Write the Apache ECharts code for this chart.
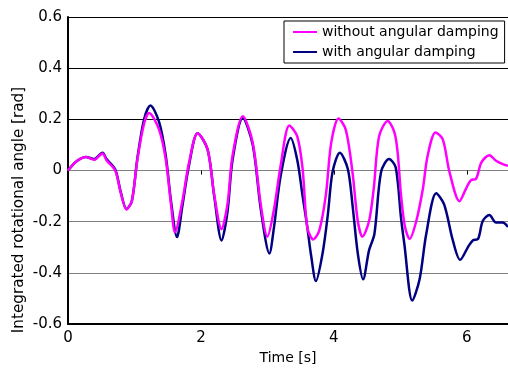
<!DOCTYPE html>
<html>
<head>
<meta charset="utf-8">
<script src="https://cdn.jsdelivr.net/npm/echarts@6/dist/echarts.min.js"></script>
<style>
  html, body { margin: 0; padding: 0; background: #fff; }
  #main { width: 508px; height: 370px; }
</style>
</head>
<body>
<div id="main"></div>
<script>
// without angular damping (magenta)
const tWithout = [0, 0.1, 0.19, 0.27, 0.39, 0.52, 0.58, 0.71, 0.79, 0.88, 0.96, 1.045, 1.145, 1.22, 1.37, 1.47, 1.55, 1.61, 1.72, 1.82, 1.95, 2.1, 2.2, 2.31, 2.4, 2.475, 2.63, 2.78, 2.9, 3.0, 3.1, 3.2, 3.33, 3.45, 3.53, 3.6, 3.69, 3.78, 3.88, 3.96, 4.07, 4.18, 4.28, 4.36, 4.43, 4.53, 4.6, 4.68, 4.81, 4.91, 4.96, 5.01, 5.07, 5.14, 5.24, 5.34, 5.41, 5.53, 5.64, 5.74, 5.89, 5.99, 6.06, 6.14, 6.22, 6.34, 6.44, 6.54, 6.62]
const yWithout = [0, 0.03, 0.047, 0.053, 0.042, 0.067, 0.04, 0, -0.083, -0.152, -0.12, 0.045, 0.184, 0.225, 0.16, 0.045, -0.133, -0.241, -0.12, 0.03, 0.146, 0.083, -0.095, -0.229, -0.13, 0.057, 0.212, 0.108, -0.133, -0.258, -0.15, 0.02, 0.176, 0.133, 0.006, -0.222, -0.269, -0.235, -0.095, 0.108, 0.203, 0.159, -0.006, -0.197, -0.258, -0.197, -0.07, 0.133, 0.194, 0.15, 0.07, -0.095, -0.22, -0.267, -0.197, -0.07, 0.057, 0.149, 0.121, -0.006, -0.12, -0.07, -0.038, -0.032, 0.032, 0.06, 0.038, 0.025, 0.019]
// with angular damping (navy)
const tWith = [0, 0.1, 0.19, 0.27, 0.39, 0.52, 0.58, 0.71, 0.79, 0.88, 0.96, 1.045, 1.145, 1.24, 1.37, 1.47, 1.55, 1.64, 1.72, 1.82, 1.95, 2.1, 2.2, 2.31, 2.4, 2.475, 2.63, 2.78, 2.9, 3.03, 3.1, 3.2, 3.35, 3.45, 3.53, 3.6, 3.66, 3.73, 3.83, 3.91, 3.98, 4.09, 4.21, 4.28, 4.36, 4.44, 4.53, 4.61, 4.71, 4.83, 4.93, 5.01, 5.06, 5.18, 5.29, 5.39, 5.54, 5.66, 5.79, 5.9, 6.02, 6.09, 6.17, 6.24, 6.34, 6.44, 6.54, 6.62]
const yWith = [0, 0.03, 0.047, 0.053, 0.045, 0.07, 0.045, 0.005, -0.08, -0.15, -0.12, 0.05, 0.2, 0.254, 0.19, 0.06, -0.12, -0.26, -0.14, 0.02, 0.146, 0.083, -0.1, -0.273, -0.16, 0.04, 0.205, 0.1, -0.15, -0.324, -0.22, -0.02, 0.127, 0.04, -0.1, -0.22, -0.336, -0.432, -0.324, -0.171, -0.006, 0.07, 0.006, -0.133, -0.324, -0.425, -0.311, -0.248, -0.006, 0.045, 0.013, -0.184, -0.286, -0.508, -0.425, -0.248, -0.089, -0.133, -0.273, -0.349, -0.298, -0.273, -0.267, -0.197, -0.174, -0.203, -0.203, -0.22]

const names = ['without angular damping', 'with angular damping']
const font = 'DejaVu Sans'

const pairs = (xs, ys) => xs.map((x, i) => [x, ys[i]])

var chartDom = document.getElementById('main');
var myChart = echarts.init(chartDom);
let option = {
  animation: false,
  textStyle: { fontFamily: font },
  grid: { left: 68, top: 17, right: 0, bottom: 37 },
  legend: {
    data: names,
    orient: 'vertical',
    left: 284,
    top: 21,
    width: 221,
    padding: [4, 6, 4, 9],
    itemGap: 6,
    itemWidth: 24,
    itemHeight: 14,
    icon: 'path://M0,0L24,0L24,2L0,2Z',
    borderColor: '#000',
    borderWidth: 1,
    backgroundColor: '#fff',
    textStyle: { fontFamily: font, fontSize: 14, color: '#000' }
  },
  xAxis: [{
    type: 'value',
    min: 0,
    max: 6.62,
    interval: 2,
    name: 'Time [s]',
    nameLocation: 'middle',
    nameGap: 26,
    nameTextStyle: { fontFamily: font, fontSize: 14, color: '#000' },
    axisLine: { onZero: false, lineStyle: { color: '#000', width: 2 } },
    axisTick: { show: false },
    axisLabel: { fontFamily: font, fontSize: 15, color: '#000', margin: 7, showMaxLabel: false },
    splitLine: { show: false }
  }, {
    type: 'value',
    position: 'top',
    min: 0,
    max: 6.62,
    interval: 2,
    axisLine: { onZero: true, lineStyle: { color: '#808080', width: 1 } },
    axisTick: { inside: true, length: 4, lineStyle: { color: '#000' } },
    axisLabel: { show: false },
    splitLine: { show: false }
  }],
  yAxis: {
    type: 'value',
    min: -0.6,
    max: 0.6,
    interval: 0.2,
    axisLine: { show: true, lineStyle: { color: '#000', width: 2 } },
    axisTick: { show: false },
    axisLabel: {
      fontFamily: font, fontSize: 15, color: '#000', margin: 6,
      formatter: v => Math.abs(v) < 1e-9 ? '0' : v.toFixed(1)
    },
    splitLine: {
      show: true,
      lineStyle: { color: ['#808080', '#808080', '#808080', '#808080', '#000', '#000', '#000'], width: 1 }
    }
  },
  graphic: [{
    type: 'text',
    x: 19,
    y: 210,
    rotation: Math.PI / 2,
    style: {
      text: 'Integrated rotational angle [rad]',
      font: '15.2px "DejaVu Sans"',
      fill: '#000',
      align: 'center',
      verticalAlign: 'middle'
    }
  }],
  series: [{
    name: names[1],
    type: 'line',
    smooth: 0.3,
    symbol: 'none',
    color: '#000080',
    lineStyle: { width: 2.5, color: '#000080' },
    data: pairs(tWith, yWith)
  }, {
    name: names[0],
    type: 'line',
    smooth: 0.3,
    symbol: 'none',
    color: '#ff00ff',
    lineStyle: { width: 2.5, color: '#ff00ff' },
    data: pairs(tWithout, yWithout)
  }]
};
option && myChart.setOption(option);
</script>
</body>
</html>
